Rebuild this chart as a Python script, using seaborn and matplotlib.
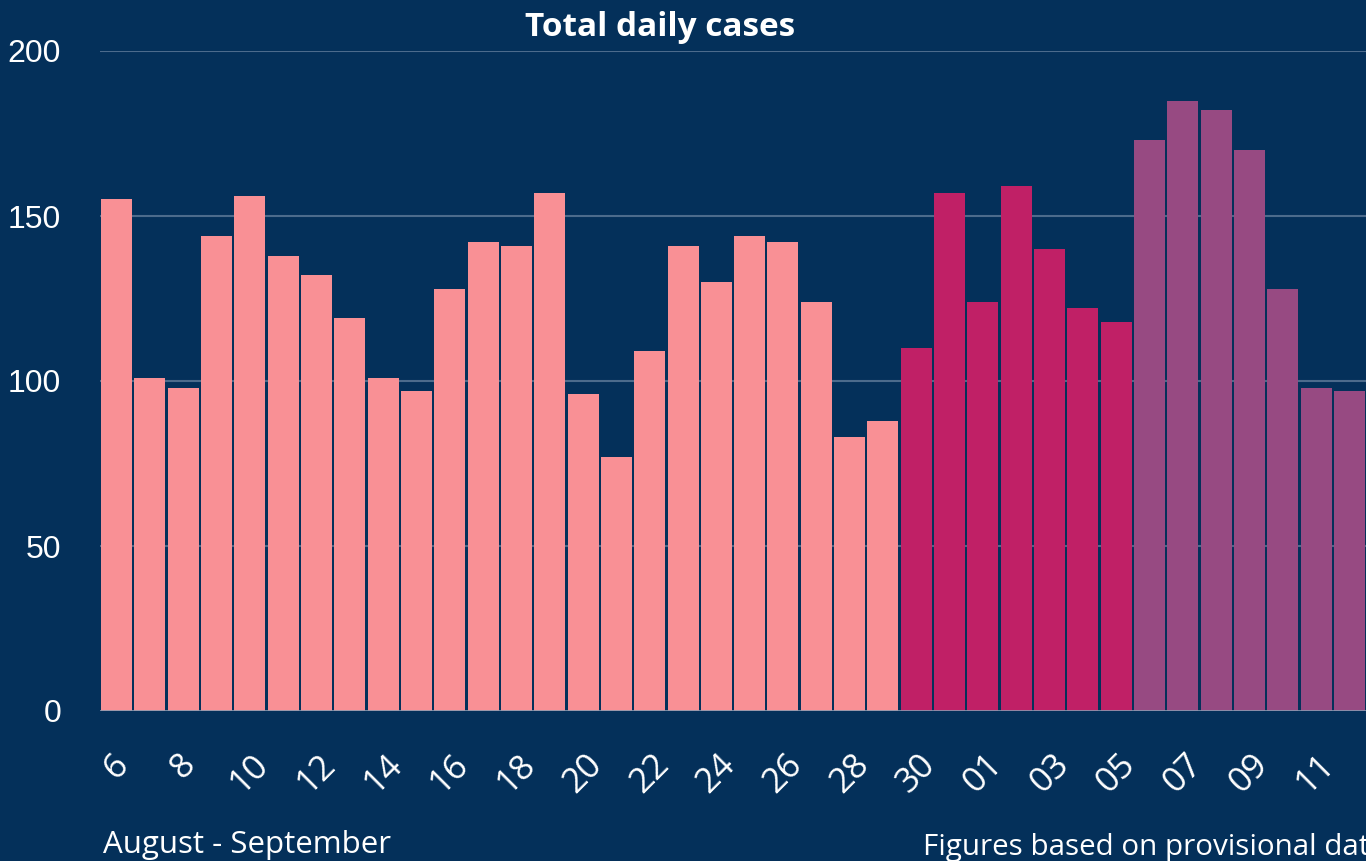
import numpy as np
import pandas as pd
import matplotlib.pyplot as plt
import seaborn as sns

# daily cases, 6 Aug - 12 Sep
days = ['6', '7', '8', '9', '10', '11', '12', '13', '14', '15', '16', '17', '18', '19',
        '20', '21', '22', '23', '24', '25', '26', '27', '28', '29', '30', '31',
        '01', '02', '03', '04', '05', '06', '07', '08', '09', '10 ', '11 ', '12 ']
cases = [155, 101, 98, 144, 156, 138, 132, 119, 101, 97, 128, 142, 141, 157,
         96, 77, 109, 141, 130, 144, 142, 124, 83, 88, 110, 157,
         124, 159, 140, 122, 118, 173, 185, 182, 170, 128, 98, 97]
groups = ['a'] * 24 + ['b'] * 7 + ['c'] * 7
group_colors = {'a': '#F99095', 'b': '#C02066', 'c': '#974A82'}

bg = '#04305A'
grid_col = '#4C6B8C'

df = pd.DataFrame({'day': days, 'cases': cases, 'group': groups})

sns.set_style('white')
fig = plt.figure(figsize=(13.66, 8.61), dpi=100, facecolor=bg)
ax = fig.add_axes([100 / 1366, 1 - 711 / 861, 1 - 100 / 1366, 660 / 861])
ax.set_facecolor(bg)

sns.barplot(data=df, x='day', y='cases', hue='group', palette=group_colors,
            dodge=False, legend=False, width=0.93, saturation=1, ax=ax, zorder=3,
            linewidth=0, edgecolor='none')

ax.set_ylim(0, 200)
ax.set_xlim(-0.5, len(days) - 0.5)
ax.set_yticks([0, 50, 100, 150, 200])
ax.set_yticklabels(['0', '50', '100', '150', '200'], fontsize=23, color='white',
                   family='Liberation Sans')
for y in [50, 100, 150, 200]:
    ax.axhline(y, color=grid_col, lw=1.5, zorder=1)
ax.axhline(0, color='#8A9AB0', lw=1.2, zorder=4)

ax.set_xticks(range(0, len(days), 2))
ax.set_xticklabels([days[i].strip() for i in range(0, len(days), 2)], rotation=45,
                   ha='center', va='top', fontsize=25, color='white', family='Open Sans')
ax.tick_params(axis='x', length=0, pad=26)
ax.tick_params(axis='y', length=0, pad=28)
ax.set_xlabel('')
ax.set_ylabel('')
for s in ax.spines.values():
    s.set_visible(False)

fig.text(660 / 1366, 1 - 27 / 861, 'Total daily cases', ha='center', va='center',
         fontsize=24, fontweight='bold', color='white', family='Open Sans')
fig.text(103 / 1366, 1 - 845 / 861, 'August - September', ha='left', va='center',
         fontsize=22.5, color='white', family='Open Sans')
fig.text(923 / 1366, 1 - 847 / 861, 'Figures based on provisional data', ha='left',
         va='center', fontsize=21.3, color='white', family='Open Sans')

fig.savefig('out.png', dpi=100, facecolor=bg)
